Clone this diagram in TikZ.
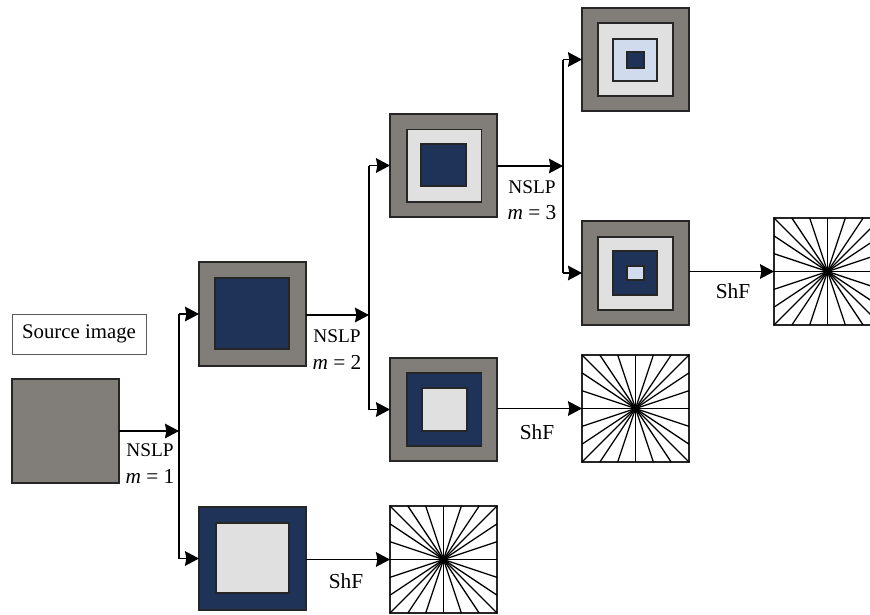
\documentclass[tikz,border=0pt]{standalone}
\usepackage{fontspec}
\setmainfont{Liberation Serif}
\usetikzlibrary{arrows.meta}
\definecolor{sgray}{HTML}{817D78}
\definecolor{snavy}{HTML}{1F3358}
\definecolor{slight}{HTML}{E0E0E0}
\definecolor{sblue}{HTML}{D0DCEE}
\tikzset{
  sq/.style={draw=black!85,line width=0.9pt,inner sep=0pt,outer sep=0pt,fill=#1},
  fanbox/.style={draw=black!85,line width=1pt,inner sep=0pt,outer sep=0pt,fill=white},
  fanline/.style={draw=black,line width=0.95pt},
  wire/.style={draw=black,line width=0.9pt},
  arr/.style={wire,-{Stealth[length=10.5pt,width=11pt,inset=1pt]}},
  lbl/.style={font=\fontsize{14.5}{17}\selectfont,inner sep=0pt,align=center},
  lblm/.style={font=\fontsize{16}{18}\selectfont,inner sep=0pt,align=center},
  lblb/.style={font=\fontsize{15.6}{18}\selectfont,align=center,draw=black!65,line width=0.7pt,fill=white,inner sep=0pt,outer sep=0pt}
}
% name, x0, y0, x1, y1, colour
\newcommand{\sqbox}[6]{\node[sq=#6,minimum width={(#4-#2)*0.75pt},minimum height={(#5-#3)*0.75pt}] (#1) at ({(#2+#4)/2},{(#3+#5)/2}) {};}
% name, x0, y0, x1, y1
\newcommand{\fanbox}[5]{%
  \node[fanbox,minimum width={(#4-#2)*0.75pt},minimum height={(#5-#3)*0.75pt}] (#1) at ({(#2+#4)/2},{(#3+#5)/2}) {};
  \foreach \k in {0,...,6}{
    \draw[fanline] ({#2+\k*(#4-#2)/6},#3) -- ({#4-\k*(#4-#2)/6},#5);
  }
  \foreach \k in {1,...,5}{
    \draw[fanline] (#2,{#3+\k*(#5-#3)/6}) -- (#4,{#5-\k*(#5-#3)/6});
  }
}
\begin{document}
\begin{tikzpicture}[x=0.75pt,y=-0.75pt]
\clip (0,0) rectangle (870,614);
\fill[white] (0,0) rectangle (870,614);

\node[lblb,minimum width={134*0.75pt},minimum height={40*0.75pt}] (srclabel) at (79,334) {Source image};

\sqbox{src}{12}{379}{119}{483}{sgray}

\sqbox{ba}{199}{262}{306}{366}{sgray}
\sqbox{bai}{215}{278}{289}{349}{snavy}

\sqbox{bb}{199}{507}{306}{610}{snavy}
\sqbox{bbi}{216}{523}{289}{593}{slight}

\sqbox{ca}{390}{114}{497}{217}{sgray}
\sqbox{cai}{407}{129.5}{481.5}{202}{slight}
\sqbox{caj}{421}{144}{466}{186}{snavy}

\sqbox{cb}{390}{358}{497}{461}{sgray}
\sqbox{cbi}{407}{373}{481.5}{446}{snavy}
\sqbox{cbj}{422}{388}{467}{431}{slight}

\sqbox{da}{582}{8}{689}{111}{sgray}
\sqbox{dai}{598}{23}{673}{96}{slight}
\sqbox{daj}{613}{39}{657}{81}{sblue}
\sqbox{dak}{627}{52}{644}{68}{snavy}

\sqbox{db}{582}{221}{689}{325}{sgray}
\sqbox{dbi}{598}{237}{673}{310}{slight}
\sqbox{dbj}{613}{251}{657}{295}{snavy}
\sqbox{dbk}{627}{266}{644}{280}{sblue}

\fanbox{fa}{774}{218}{881}{325}
\fanbox{fb}{582}{355}{689}{462}
\fanbox{fc}{390}{506}{497}{613}

\coordinate (ja) at (179,431);
\coordinate (jb) at (369,315);
\coordinate (jc) at (563,166);

\draw[arr] (src.east |- ja) -- (ja);
\draw[wire] (ja |- ba.west) -- (ja |- bb.west);
\draw[arr] (ja |- ba.west) -- (ba.west);
\draw[arr] (ja |- bb.west) -- (bb.west);

\draw[arr] (ba.east |- jb) -- (jb);
\draw[wire] (jb |- ca.west) -- (jb |- cb.west);
\draw[arr] (jb |- ca.west) -- (ca.west);
\draw[arr] (jb |- cb.west) -- (cb.west);

\draw[arr] (ca.east |- jc) -- (jc);
\draw[wire] (jc |- da.west) -- (jc |- db.west);
\draw[arr] (jc |- da.west) -- (da.west);
\draw[arr] (jc |- db.west) -- (db.west);

\draw[arr] (db.east |- fa.west) -- (fa.west);
\draw[arr] (cb.east |- fb.west) -- (fb.west);
\draw[arr] (bb.east |- fc.west) -- (fc.west);

\node[lbl] (la) at (150,450) {NSLP};
\node[lblm] (lam) at (150,476) {\textit{m} = 1};
\node[lbl] (lb) at (337,336) {NSLP};
\node[lblm] (lbm) at (337,362) {\textit{m} = 2};
\node[lbl] (lc) at (532,187) {NSLP};
\node[lblm] (lcm) at (532,213) {\textit{m} = 3};
\node[lblm] (sa) at (733,291) {ShF};
\node[lblm] (sb) at (537,432) {ShF};
\node[lblm] (sc) at (346,581) {ShF};
\end{tikzpicture}
\end{document}
